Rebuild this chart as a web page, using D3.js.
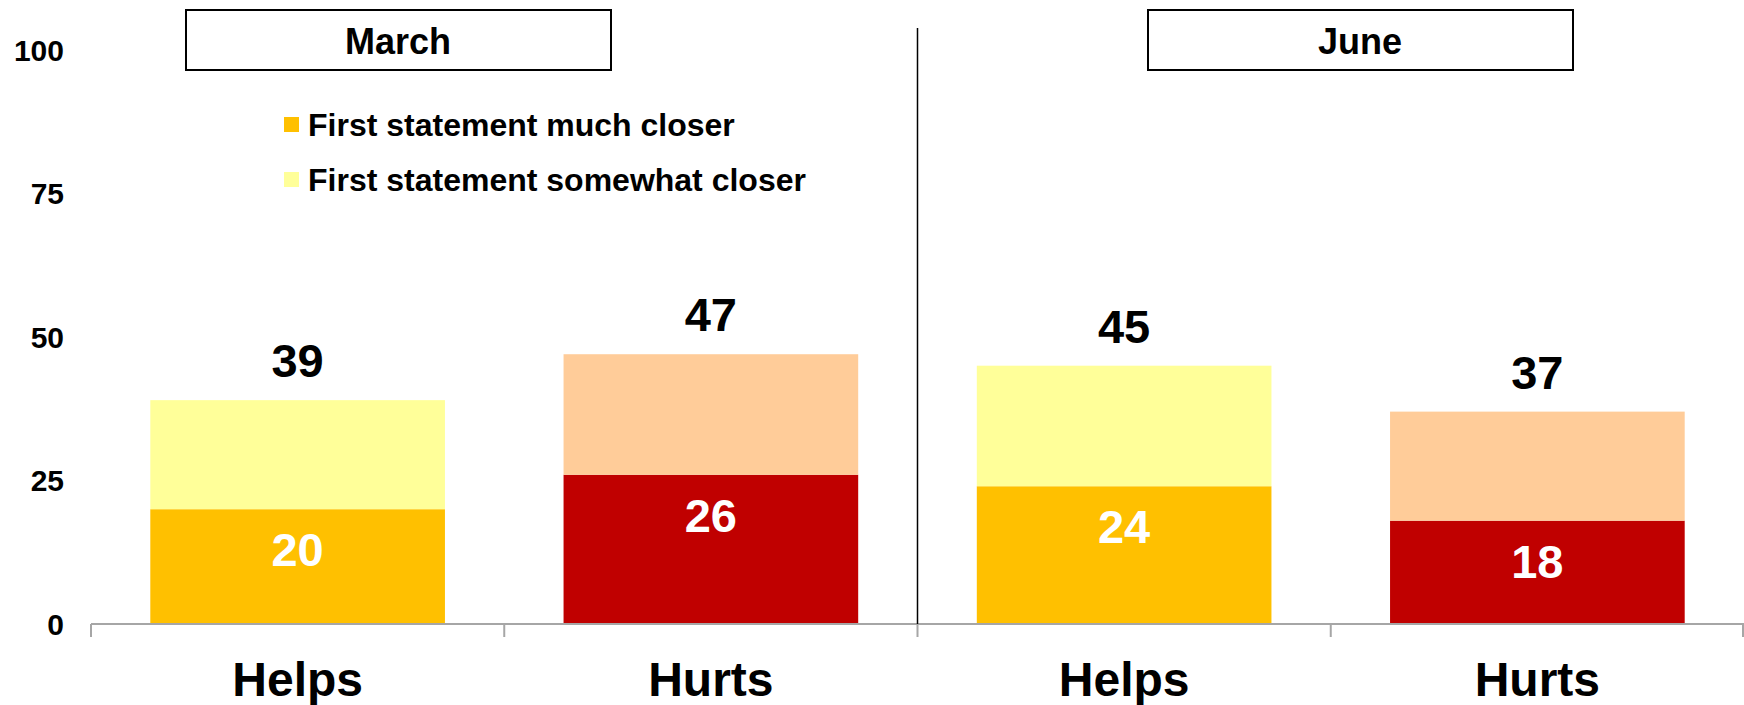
<!DOCTYPE html>
<html>
<head>
<meta charset="utf-8">
<script src="https://cdn.jsdelivr.net/npm/d3@7"></script>
<style>
  body { margin: 0; background: #fff; }
  svg { display: block; font-family: "Liberation Sans", Arial, sans-serif; font-weight: bold; }
</style>
</head>
<body>
<svg width="1744" height="705"></svg>
<script>
// chart values
var keys = ["mh", "mu", "jh", "ju"];
var categories = ["Helps", "Hurts", "Helps", "Hurts"];
var muchCloser = [20, 26, 24, 18];
var somewhatCloser = [19, 21, 21, 19];
var totals = [39, 47, 45, 37];
var periods = ["March", "June"];
var yTicks = [0, 25, 50, 75, 100];
var legendLabels = ["First statement much closer", "First statement somewhat closer"];

var darkColors = ["#FFC000", "#C00000", "#FFC000", "#C00000"];
var lightColors = ["#FFFF99", "#FFCC99", "#FFFF99", "#FFCC99"];

var svg = d3.select('svg'),
    plotLeft = 91,
    plotRight = 1744,
    plotTop = 50,
    plotBottom = 624;

var xScale = d3.scaleBand().domain(keys).range([plotLeft, plotRight])
    .paddingInner(0.287).paddingOuter(0.1435);
var yScale = d3.scaleLinear().domain([0, 100]).range([plotBottom, plotTop]);

// y labels, no axis line
svg.append('g').selectAll('text').data(yTicks)
    .enter().append('text')
    .attr('x', 64)
    .attr('y', function(d) { return yScale(d); })
    .attr('dy', '0.35em')
    .attr('text-anchor', 'end')
    .attr('font-size', 30)
    .text(function(d) { return d; });

// stacked bars
var g = svg.append('g');
g.selectAll('rect.dark').data(keys)
    .enter().append('rect')
    .attr('class', 'dark')
    .attr('x', function(d) { return xScale(d); })
    .attr('width', xScale.bandwidth())
    .attr('y', function(d, i) { return yScale(muchCloser[i]); })
    .attr('height', function(d, i) { return yScale(0) - yScale(muchCloser[i]); })
    .attr('fill', function(d, i) { return darkColors[i]; });

g.selectAll('rect.light').data(keys)
    .enter().append('rect')
    .attr('class', 'light')
    .attr('x', function(d) { return xScale(d); })
    .attr('width', xScale.bandwidth())
    .attr('y', function(d, i) { return yScale(muchCloser[i] + somewhatCloser[i]); })
    .attr('height', function(d, i) { return yScale(muchCloser[i]) - yScale(muchCloser[i] + somewhatCloser[i]); })
    .attr('fill', function(d, i) { return lightColors[i]; });

// values inside
g.selectAll('text.inner').data(keys)
    .enter().append('text')
    .attr('class', 'inner')
    .attr('x', function(d) { return xScale(d) + xScale.bandwidth() / 2; })
    .attr('y', function(d, i) { return yScale(muchCloser[i]) + 57; })
    .attr('text-anchor', 'middle')
    .attr('font-size', 47)
    .attr('fill', '#fff')
    .text(function(d, i) { return muchCloser[i]; });

// totals on top
g.selectAll('text.total').data(keys)
    .enter().append('text')
    .attr('class', 'total')
    .attr('x', function(d) { return xScale(d) + xScale.bandwidth() / 2; })
    .attr('y', function(d, i) { return yScale(totals[i]) - 23; })
    .attr('text-anchor', 'middle')
    .attr('font-size', 47)
    .text(function(d, i) { return totals[i]; });

// x axis with ticks at band edges
var step = xScale.step();
var edges = d3.range(keys.length + 1).map(function(i) { return plotLeft + i * step; });
svg.append('line')
    .attr('x1', plotLeft).attr('x2', plotRight)
    .attr('y1', plotBottom).attr('y2', plotBottom)
    .attr('stroke', '#A6A6A6').attr('stroke-width', 2);
svg.append('g').selectAll('line').data(edges)
    .enter().append('line')
    .attr('x1', function(d) { return Math.min(d, plotRight - 1); })
    .attr('x2', function(d) { return Math.min(d, plotRight - 1); })
    .attr('y1', plotBottom).attr('y2', plotBottom + 13)
    .attr('stroke', '#A6A6A6').attr('stroke-width', 2);

svg.append('g').selectAll('text').data(keys)
    .enter().append('text')
    .attr('x', function(d) { return xScale(d) + xScale.bandwidth() / 2; })
    .attr('y', 696)
    .attr('text-anchor', 'middle')
    .attr('font-size', 48)
    .text(function(d, i) { return categories[i]; });

// divider between months
svg.append('line')
    .attr('x1', edges[2]).attr('x2', edges[2])
    .attr('y1', 28).attr('y2', plotBottom)
    .attr('stroke', '#000').attr('stroke-width', 1.5);

// month boxes
var boxX = [186, 1148];
var boxes = svg.append('g').selectAll('g').data(periods)
    .enter().append('g');
boxes.append('rect')
    .attr('x', function(d, i) { return boxX[i]; })
    .attr('y', 10).attr('width', 425).attr('height', 60)
    .attr('fill', '#fff').attr('stroke', '#000').attr('stroke-width', 2);
boxes.append('text')
    .attr('x', function(d, i) { return boxX[i] + 212; })
    .attr('y', 54)
    .attr('text-anchor', 'middle')
    .attr('font-size', 36)
    .text(function(d) { return d; });

// legend
var legend = svg.append('g').selectAll('g').data(legendLabels)
    .enter().append('g')
    .attr('transform', function(d, i) { return 'translate(284,' + (125 + i * 55) + ')'; });
legend.append('rect')
    .attr('x', 0).attr('y', -8).attr('width', 15).attr('height', 15)
    .attr('fill', function(d, i) { return i == 0 ? darkColors[0] : lightColors[0]; });
legend.append('text')
    .attr('x', 24).attr('y', 0).attr('dy', '0.35em')
    .attr('font-size', 32)
    .text(function(d) { return d; });
</script>
</body>
</html>
